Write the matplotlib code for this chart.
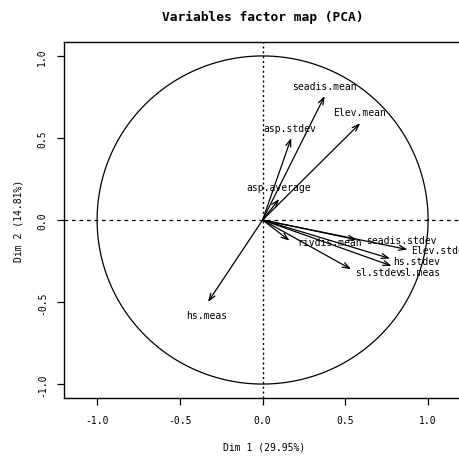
import matplotlib
matplotlib.use("Agg")
import matplotlib.pyplot as plt
import numpy as np

variables = ["seadis.mean", "Elev.mean", "asp.stdev", "asp.average", "rivdis.mean",
             "seadis.stdev", "Elev.stdev", "hs.stdev", "sl.stdev", "sl.meas", "hs.meas"]
dim1 = [0.375, 0.59, 0.173, 0.10, 0.163, 0.57, 0.876, 0.77, 0.535, 0.78, -0.33]
dim2 = [0.756, 0.59, 0.50, 0.128, -0.126, -0.12, -0.18, -0.235, -0.30, -0.28, -0.50]
ticks = [-1.0, -0.5, 0.0, 0.5, 1.0]
tick_labels = ["-1.0", "-0.5", "0.0", "0.5", "1.0"]
title = "Variables factor map (PCA)"
xlabel = "Dim 1 (29.95%)"
ylabel = "Dim 2 (14.81%)"

# label placement (layout only)
label_pos = [(0.375, 0.817, "center"), (0.586, 0.66, "center"), (0.163, 0.56, "center"),
             (0.10, 0.20, "center"), (0.405, -0.134, "center"), (0.84, -0.122, "center"),
             (0.90, -0.183, "left"), (0.93, -0.25, "center"), (0.70, -0.317, "center"),
             (0.95, -0.317, "center"), (-0.34, -0.58, "center")]

FONT = "DejaVu Sans Mono"
fs = 7.0

fig = plt.figure(figsize=(4.6, 4.6), dpi=100)
ax = fig.add_axes([64/460, 1 - 399/460, 400/460, 356/460])
ax.set_xlim(-1.2, 1.217)
ax.set_ylim(-1.085, 1.085)

th = np.linspace(0, 2*np.pi, 400)
ax.plot(np.cos(th), np.sin(th), color="black", lw=0.9)
ax.axhline(0, color="black", lw=0.9, ls=(0, (3, 3)))
ax.axvline(0, color="black", lw=1.0, ls=(0, (1.5, 2.0)))

for name, x, y, (lx, ly, ha) in zip(variables, dim1, dim2, label_pos):
    ax.annotate("", xy=(x, y), xytext=(0, 0),
                arrowprops=dict(arrowstyle="->,head_length=0.5,head_width=0.18",
                                color="black", lw=0.9, shrinkA=0, shrinkB=0))
    ax.text(lx, ly, name, ha=ha, va="center", fontsize=fs, family=FONT)

ax.set_xticks(ticks)
ax.set_xticklabels(tick_labels, family=FONT, fontsize=fs)
ax.set_yticks(ticks)
ax.set_yticklabels(tick_labels, family=FONT, fontsize=fs, rotation=90, va="center")
ax.tick_params(direction="out", length=5, width=0.9, pad=7)
for s in ax.spines.values():
    s.set_linewidth(1.0)

ax.set_xlabel(xlabel, family=FONT, fontsize=fs, labelpad=12)
ax.set_ylabel(ylabel, family=FONT, fontsize=fs, labelpad=10)
fig.text(263/460, 1 - 17/460, title, ha="center", va="center", family=FONT,
         fontsize=9.3, fontweight="bold")

fig.savefig("out.png", dpi=100)
